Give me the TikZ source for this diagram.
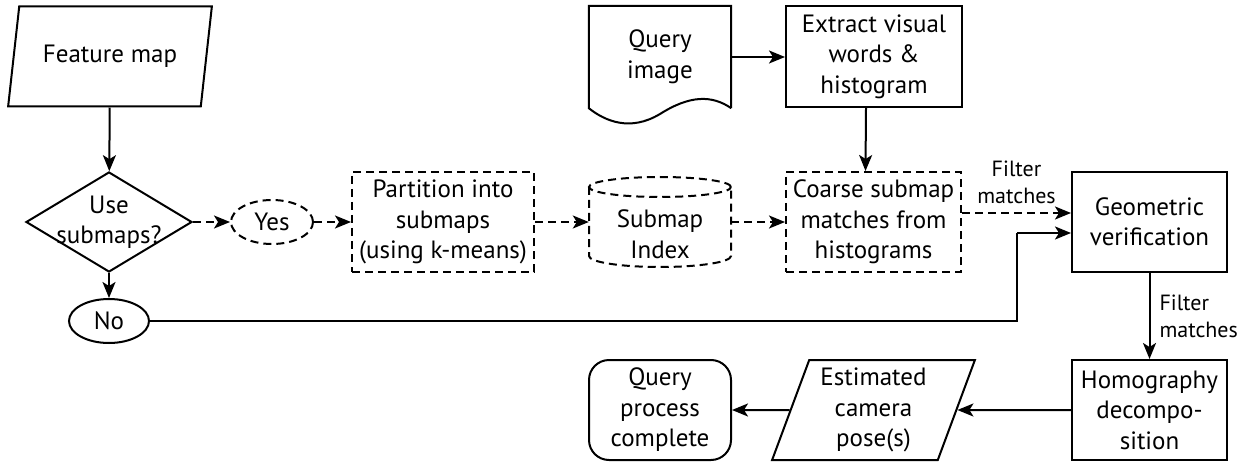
\documentclass[tikz,border=0pt]{standalone}
\usepackage{fontspec}
\setmainfont{PT Sans}
\usetikzlibrary{positioning,shapes.geometric,arrows.meta,calc}

\begin{document}
\begin{tikzpicture}[x=1pt,y=1pt,
	font=\fontsize{25}{30.5}\selectfont,
	every node/.style={align=center,inner sep=0pt},
	line/.style={line width=2pt},
	dsh/.style={line width=2pt,dash pattern=on 8pt off 5pt},
	arr/.style={line width=2pt,-{Stealth[length=16pt,width=13pt,inset=4pt]}},
	darr/.style={arr,dash pattern=on 8pt off 5pt},
	lbl/.style={font=\fontsize{22}{27}\selectfont,align=left},
	box/.style={draw,line,minimum height=100},
	slant/.style={draw,line,trapezium,trapezium left angle=70,trapezium right angle=110,trapezium stretches=true,minimum height=100}]
	\useasboundingbox (0,0) rectangle (1257,461);
	
	% left column
	\node[slant,minimum width=204] (fm) at (110,404.5) {Feature map};
	\node[draw,line,diamond,inner sep=-30pt,minimum width=166,minimum height=100] (use) at (109,239) {Use\\submaps?};
	\node[draw,dsh,ellipse,minimum width=82,minimum height=44] (yes) at (272,239) {Yes};
	\node[draw,line,ellipse,minimum width=80,minimum height=44] (no) at (109,140) {No};
	
	% submap path
	\node[box,dsh,minimum width=182] (part) at (443,239) {Partition into\\submaps\\(using k-means)};
	\node[minimum width=142] (idx) at (660,227) {Submap\\Index};
	\draw[dsh] (660,274) ellipse [x radius=71,y radius=10];
	\draw[dsh] (589,274) -- (589,205) arc [start angle=180,end angle=360,x radius=71,y radius=11] -- (731,274);
	\node[box,dsh,minimum width=175] (coarse) at (873.5,239) {Coarse submap\\matches from\\histograms};
	
	% query
	\node[minimum width=142,minimum height=102] (qimg) at (660,404) {Query\\image};
	\draw[line] (qimg.south east) -- (qimg.north east) -- (qimg.north west) -- (qimg.south west)
		.. controls (605,340) and (630,329) .. (660,347)
		.. controls (690,366) and (712,366) .. (qimg.south east);
	\node[box,minimum width=176,minimum height=101] (ext) at (874,404.5) {Extract visual\\words \&\\histogram};
	
	% right column
	\node[box,minimum width=155] (geo) at (1149.5,239) {Geometric\\verification};
	\node[box,minimum width=155] (hom) at (1149.5,51) {Homography\\decompo-\\sition};
	\node[slant,minimum width=203] (est) at (873.5,51) {Estimated\\camera\\pose(s)};
	\node[box,minimum width=142,rounded corners=20pt] (done) at (660,51) {Query\\process\\complete};
	
	\coordinate (bend) at (1017,228);
	
	\draw[arr] (fm) -- (use);
	\draw[arr] (use) -- (no);
	\draw[darr] (use) -- (yes);
	\draw[darr] (yes) -- (part);
	\draw[darr] (part.east) -- (part.east -| idx.west);
	\draw[darr] (part.east -| idx.east) -- (coarse.west);
	\draw[arr] (qimg.east) -- (qimg.east -| ext.west);
	\draw[arr] ([xshift=-8pt]ext.south) -- ([xshift=-8pt]coarse.north);
	\draw[darr] ([yshift=9pt]coarse.east) -- ([yshift=9pt]geo.west)
		node[midway,above=8pt,lbl,align=center] (f1) {Filter\\matches};
	\draw[line] (no.east) -| (bend);
	\draw[arr] (bend) -- (bend -| geo.west);
	\draw[arr] (geo) -- (hom)
		node[midway,right=9pt,lbl] (f2) {Filter\\matches};
	\draw[arr] (hom) -- (est);
	\draw[arr] (est) -- (done);
\end{tikzpicture}
\end{document}
